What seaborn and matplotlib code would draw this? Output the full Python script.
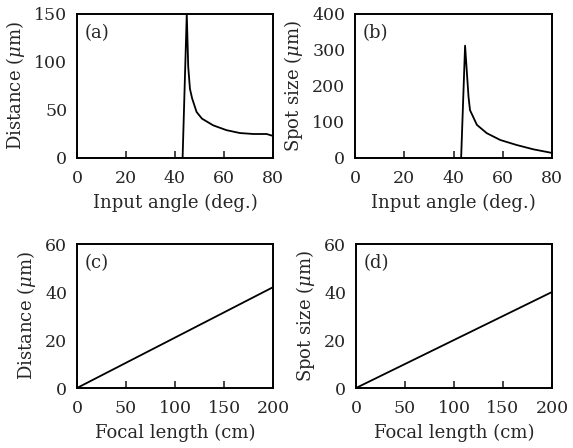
import matplotlib
matplotlib.use("Agg")
import matplotlib.pyplot as plt
import seaborn as sns
import pandas as pd

# Panel (a): distance vs input angle
angle_a = [0, 10, 20, 30, 40, 43.1, 44.8, 45.4, 46.1, 47.0, 48.8, 51.0, 55.6, 61.0, 66.5, 72.0, 77.4, 80.0]
dist_a = [0, 0, 0, 0, 0, 0, 150, 95, 72, 62, 48, 41, 34, 29, 26, 25, 25, 23]

# Panel (b): spot size vs input angle
angle_b = [0, 10, 20, 30, 40, 43.1, 44.7, 46.1, 46.7, 49.5, 53.5, 59.0, 65.7, 72.5, 79.3, 80.0]
spot_b = [0, 0, 0, 0, 0, 0, 312, 170, 133, 92, 69, 50, 36, 24, 15, 14]

# Panel (c), (d): vs focal length
focal = [0, 200]
dist_c = [0, 42]
spot_d = [0, 40]

sns.set_theme(style="ticks")
plt.rcParams["font.family"] = ["DejaVu Serif"]
plt.rcParams["mathtext.fontset"] = "dejavuserif"

fig = plt.figure(figsize=(5.73, 4.48), dpi=100)
W, H = 573.0, 448.0

def make_ax(l, t, r, b):
    return fig.add_axes([l / W, 1 - b / H, (r - l) / W, (b - t) / H])

axes = [make_ax(77, 14, 273, 158), make_ax(355, 14, 552, 158),
        make_ax(77, 244, 273, 388), make_ax(356, 244, 552, 388)]

specs = [
    (angle_a, dist_a, (0, 80), [0, 20, 40, 60, 80], (0, 150), [0, 50, 100, 150],
     "Input angle (deg.)", r"Distance ($\mu$m)", "(a)"),
    (angle_b, spot_b, (0, 80), [0, 20, 40, 60, 80], (0, 400), [0, 100, 200, 300, 400],
     "Input angle (deg.)", r"Spot size ($\mu$m)", "(b)"),
    (focal, dist_c, (0, 200), [0, 50, 100, 150, 200], (0, 60), [0, 20, 40, 60],
     "Focal length (cm)", r"Distance ($\mu$m)", "(c)"),
    (focal, spot_d, (0, 200), [0, 50, 100, 150, 200], (0, 60), [0, 20, 40, 60],
     "Focal length (cm)", r"Spot size ($\mu$m)", "(d)"),
]

fs = 13
for ax, (x, y, xl, xt, yl, yt, xlab, ylab, tag) in zip(axes, specs):
    df = pd.DataFrame({"x": x, "y": y})
    sns.lineplot(data=df, x="x", y="y", ax=ax, color="black", linewidth=1.3)
    ax.set_xlim(*xl)
    ax.set_ylim(*yl)
    ax.set_xticks(xt)
    ax.set_yticks(yt)
    ax.set_xlabel(xlab, fontsize=fs, labelpad=5)
    ax.set_ylabel(ylab, fontsize=fs, labelpad=5)
    ax.tick_params(axis="x", direction="in", length=5, width=1.2, labelsize=12.5, pad=8.5)
    ax.tick_params(axis="y", length=0, labelsize=12.5, pad=7)
    for s in ax.spines.values():
        s.set_linewidth(1.4)
        s.set_color("black")
    ax.text(0.04, 0.93, tag, transform=ax.transAxes, fontsize=fs, va="top", ha="left")

fig.savefig("out.png", dpi=100)
